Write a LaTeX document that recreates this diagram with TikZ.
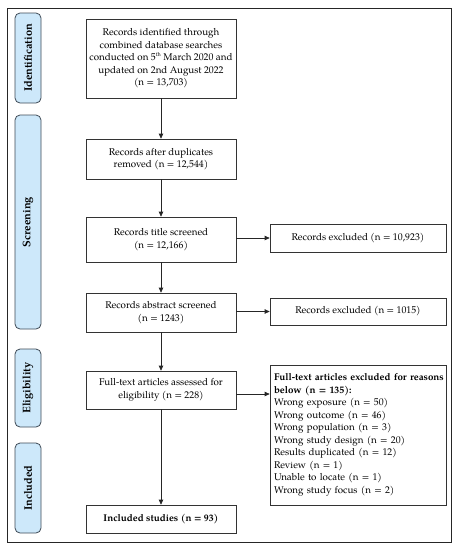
\documentclass[tikz,border=0pt]{standalone}
\usepackage{fontspec}
\setmainfont{TeX Gyre Pagella}
\usetikzlibrary{arrows.meta,calc}
\definecolor{sidefill}{HTML}{CDE8FA}
\definecolor{sidedraw}{HTML}{3E4A56}
\newcommand{\supth}{\raisebox{0.9ex}{\fontsize{5.5}{6}\selectfont th}}
\tikzset{
  box/.style={draw=black!80, line width=0.7pt, align=center, font=\fontsize{9.8}{12.5}\selectfont, inner sep=2pt},
  side/.style={draw=sidedraw, fill=sidefill, line width=0.8pt, rounded corners=5pt, minimum width=26pt, inner sep=0pt},
  sidetext/.style={rotate=90, font=\fontsize{11}{12}\selectfont\bfseries},
  arr/.style={-{Triangle[length=5pt,width=4.5pt]}, line width=0.7pt, black!85},
}
\begin{document}
\begin{tikzpicture}[x=1pt,y=-1pt]
\useasboundingbox (0,0) rectangle (457,550);
\draw[line width=0.8pt, black!85] (7,8) rectangle (451,542);
% side labels
\node[side, minimum height=90pt] (sid) at (28,58) {};
\node[sidetext] (tid) at (sid) {Identification};
\node[side, minimum height=214pt] (ssc) at (28,222) {};
\node[sidetext] (tsc) at (ssc) {Screening};
\node[side, minimum height=78pt] (sel) at (28,388) {};
\node[sidetext] (tel) at (sel) {Eligibility};
\node[side, minimum height=90pt] (sin) at (28,488) {};
\node[sidetext] (tin) at (sin) {Included};
% main boxes
\node[box, minimum width=150pt, minimum height=79pt] (b1) at (161,58.5) {Records identified through\\combined database searches\\conducted on 5\supth{} March 2020 and\\updated on 2nd August 2022\\(n = 13,703)};
\node[box, minimum width=150pt, minimum height=40pt] (b2) at (161,159) {Records after duplicates\\removed (n = 12,544)};
\node[box, minimum width=150pt, minimum height=45pt] (b3) at (161,239.5) {Records title screened\\(n = 12,166)};
\node[box, minimum width=150pt, minimum height=39pt] (b4) at (161,312.5) {Records abstract screened\\(n = 1243)};
\node[box, minimum width=150pt, minimum height=38pt] (b5) at (161,390) {Full-text articles assessed for\\eligibility (n = 228)};
\node[box, minimum width=150pt, minimum height=28pt] (b6) at (161,519) {\textbf{Included studies (n = 93)}};
% right boxes
\node[box, minimum width=176pt, minimum height=28pt] (r1) at (358,238) {Records excluded (n = 10,923)};
\node[box, minimum width=176pt, minimum height=27pt] (r2) at (358,311.5) {Records excluded (n = 1015)};
\node[box, minimum width=176pt, minimum height=140pt, text width=168pt, align=left, inner sep=4pt] (r3) at (358,435) {\textbf{\mbox{Full-text articles excluded for reasons}}\\\textbf{below (n = 135):}\\Wrong exposure (n = 50)\\Wrong outcome (n = 46)\\Wrong population (n = 3)\\Wrong study design (n = 20)\\Results duplicated (n = 12)\\Review (n = 1)\\Unable to locate (n = 1)\\Wrong study focus (n = 2)};
% arrows
\draw[arr] (b1) -- (b2);
\draw[arr] (b2) -- (b3);
\draw[arr] (b3) -- (b4);
\draw[arr] (b4) -- (b5);
\draw[arr] (b5) -- (b6);
\draw[arr] (b3.east |- r1) -- (r1.west);
\draw[arr] (b4.east |- r2) -- (r2.west);
\draw[arr] ($(b5.east)+(0,4)$) -- ($(b5.east -| r3.west)+(0,4)$);
\end{tikzpicture}
\end{document}
